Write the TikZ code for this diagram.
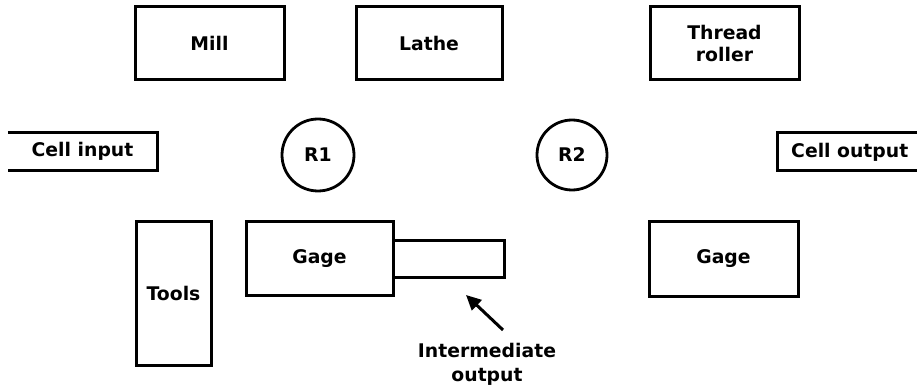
\documentclass[tikz,border=0pt]{standalone}
\usepackage{fontspec}
\setmainfont{DejaVu Sans}
\usetikzlibrary{arrows.meta}
\tikzset{
  lbl/.style={font=\bfseries\fontsize{18.8}{22}\selectfont, inner sep=0pt},
  box/.style={lbl, draw, line width=3pt, align=center},
  robot/.style={lbl, draw, circle, line width=2.8pt},
  pointer/.style={line width=3pt, -{Triangle[length=15pt,width=14pt]}}
}
\begin{document}
\begin{tikzpicture}[x=1pt,y=-1pt]
\clip (0,0) rectangle (917,387);
\fill[white] (0,0) rectangle (917,387);
\node[box, minimum width=149pt, minimum height=73pt] (mill) at (209.5,43.5) {Mill};
\node[box, minimum width=146pt, minimum height=73pt] (lathe) at (429,43.5) {Lathe};
\node[box, minimum width=149pt, minimum height=73pt] (thread) at (724.5,43.5) {Thread\\roller};
\node[robot, minimum size=72pt] (r1) at (318,155) {R1};
\node[robot, minimum size=70pt] (r2) at (572,155) {R2};
% cell input (open on the left)
\node[lbl, minimum width=149pt, minimum height=37pt] (cin) at (82.5,151.5) {Cell input};
\draw[line width=3pt] (cin.north west) -- (cin.north east) -- (cin.south east) -- (cin.south west);
% cell output (runs off the right edge)
\node[lbl, anchor=west] (couttext) at (791,152) {Cell output};
\node[minimum width=150pt, minimum height=37pt, inner sep=0pt] (cout) at (853,151.5) {};
\draw[line width=3pt] (cout.north east) -- (cout.north west) -- (cout.south west) -- (cout.south east);
\node[box, minimum width=75pt, minimum height=143pt] (tools) at (173.5,293.5) {Tools};
\node[box, minimum width=147pt, minimum height=73pt] (gage1) at (319.5,258.5) {Gage};
\node[box, minimum width=111pt, minimum height=37pt] (inter) at (448.5,258.5) {};
\node[box, minimum width=149pt, minimum height=74pt] (gage2) at (723.5,259) {Gage};
\node[lbl, align=center, font=\bfseries\fontsize{18.8}{24}\selectfont] (ilabel) at (487,364) {Intermediate\\output};
\coordinate (tail) at (503,330);
\coordinate (tip) at (466,295);
\draw[pointer] (tail) -- (tip);
\end{tikzpicture}
\end{document}
